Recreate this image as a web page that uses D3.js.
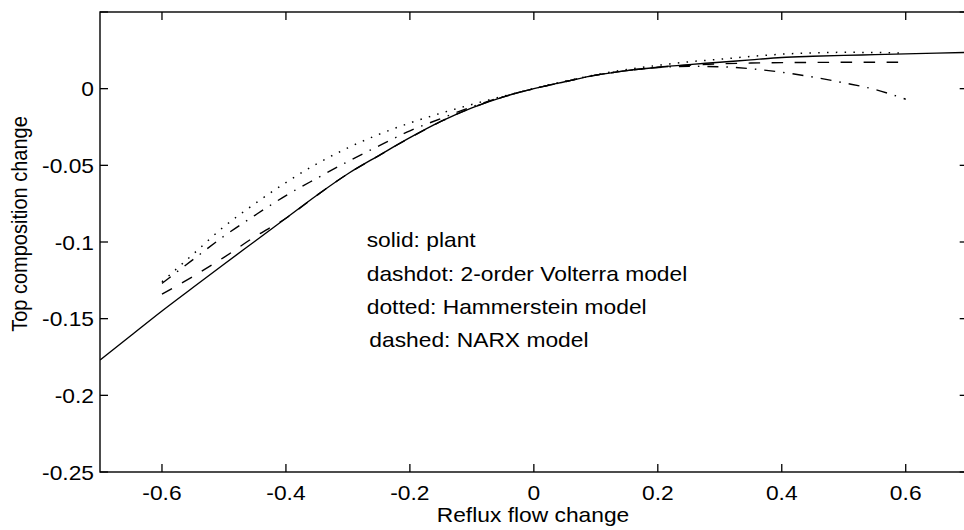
<!DOCTYPE html>
<html><head><meta charset="utf-8">
<script src="https://cdn.jsdelivr.net/npm/d3@7"></script>
<style>body{margin:0;background:#fff}text{font-family:"Liberation Sans",Arial,Helvetica,sans-serif;fill:#000}</style>
</head><body><svg id="c" width="964" height="530"></svg>
<script>
const xTicks = [-0.6,-0.4,-0.2,0,0.2,0.4,0.6];
const xTickLabels = ["-0.6","-0.4","-0.2","0","0.2","0.4","0.6"];
const yTicks = [-0.25,-0.2,-0.15,-0.1,-0.05,0,0.05];
const yTickLabels = ["-0.25","-0.2","-0.15","-0.1","-0.05","0",""];
const xPlant = [-0.7,-0.65,-0.6,-0.55,-0.5,-0.45,-0.4,-0.35,-0.3,-0.25,-0.2,-0.15,-0.1,-0.05,0,0.05,0.1,0.15,0.2,0.25,0.3,0.35,0.4,0.45,0.5,0.55,0.6,0.65,0.7];
const plant = [-0.177,-0.161,-0.145,-0.1297,-0.1145,-0.0995,-0.0845,-0.0695,-0.0555,-0.0436,-0.032,-0.0214,-0.0125,-0.0055,0,0.0045,0.0088,0.0118,0.014,0.0157,0.0172,0.0188,0.0203,0.0211,0.0217,0.0222,0.0227,0.0232,0.0236];
const xModel = [-0.6,-0.55,-0.5,-0.45,-0.4,-0.35,-0.3,-0.25,-0.2,-0.15,-0.1,-0.05,0,0.05,0.1,0.15,0.2,0.25,0.3,0.35,0.4,0.45,0.5,0.55,0.6];
const volterra = [-0.127,-0.1115,-0.0962,-0.0826,-0.0697,-0.0584,-0.0475,-0.0373,-0.0275,-0.0195,-0.0118,-0.0053,0,0.0045,0.0088,0.0118,0.0138,0.0146,0.0143,0.013,0.0107,0.0076,0.0038,-0.0005,-0.0069];
const hammerstein = [-0.126,-0.108,-0.090,-0.075,-0.0612,-0.049,-0.0386,-0.0298,-0.0224,-0.016,-0.0103,-0.005,0,0.0048,0.009,0.0125,0.0152,0.0175,0.0192,0.021,0.0225,0.0233,0.0237,0.0236,0.0232];
const narx = [-0.134,-0.1225,-0.110,-0.0965,-0.0845,-0.0695,-0.0555,-0.0436,-0.032,-0.0214,-0.0125,-0.0055,0,0.0045,0.0088,0.0118,0.0139,0.0153,0.0162,0.0167,0.017,0.0171,0.0172,0.0172,0.0172];
const legendLines = ["solid: plant","dashdot: 2-order Volterra model","dotted: Hammerstein model","dashed: NARX model"];

const SX = 1.14, FS = 20;
const svg = d3.select("#c");
const L = 100, R = 967.7, T = 12, B = 472;
const x = d3.scaleLinear().domain([-0.7,0.7]).range([L,R]);
const y = d3.scaleLinear().domain([-0.25,0.05]).range([B,T]);

// frame
svg.append("rect").attr("x",L).attr("y",T).attr("width",R-L).attr("height",B-T)
  .attr("fill","none").attr("stroke","#000").attr("stroke-width",1.4);

const tk = 8;
const g = svg.append("g").attr("stroke","#000").attr("stroke-width",1.3);
xTicks.forEach(v=>{
  g.append("line").attr("x1",x(v)).attr("x2",x(v)).attr("y1",B).attr("y2",B-tk);
  g.append("line").attr("x1",x(v)).attr("x2",x(v)).attr("y1",T).attr("y2",T+tk);
});
yTicks.forEach(v=>{
  g.append("line").attr("x1",L).attr("x2",L+tk).attr("y1",y(v)).attr("y2",y(v));
  g.append("line").attr("x1",R).attr("x2",R-tk).attr("y1",y(v)).attr("y2",y(v));
});

function txt(s,tx,ty,anchor,extra){
  return svg.append("text").attr("transform",`translate(${tx},${ty}) scale(${SX},1)`+(extra||""))
    .attr("text-anchor",anchor).attr("font-size",FS).text(s);
}
xTicks.forEach((v,i)=>txt(xTickLabels[i],x(v),499.5,"middle"));
yTicks.forEach((v,i)=>{ if(yTickLabels[i]) txt(yTickLabels[i],94,y(v)+7.5,"end"); });
txt("Reflux flow change",533,522,"middle");
txt("Top composition change",26.5,224,"middle"," rotate(-90)");

const lineGen = (xs)=>d3.line().x((d,i)=>x(xs[i])).y(d=>y(d)).curve(d3.curveMonotoneX);
const cp = svg.append("defs").append("clipPath").attr("id","clip");
cp.append("rect").attr("x",L).attr("y",T).attr("width",R-L).attr("height",B-T);
const pg = svg.append("g").attr("clip-path","url(#clip)").attr("fill","none").attr("stroke","#000");
pg.append("path").attr("d",lineGen(xModel)(hammerstein)).attr("stroke-width",1.5).attr("stroke-dasharray","1.5,7.3");
pg.append("path").attr("d",lineGen(xModel)(volterra)).attr("stroke-width",1.4).attr("stroke-dasharray","11,8,1.5,8");
pg.append("path").attr("d",lineGen(xModel)(narx)).attr("stroke-width",1.4).attr("stroke-dasharray","11.5,11.5");
pg.append("path").attr("d",lineGen(xPlant)(plant)).attr("stroke-width",1.4);

const legX = [366.7,366.7,366.7,369.3], legY = [247,281,314,347];
legendLines.forEach((s,i)=>txt(s,legX[i],legY[i],"start"));
</script></body></html>
